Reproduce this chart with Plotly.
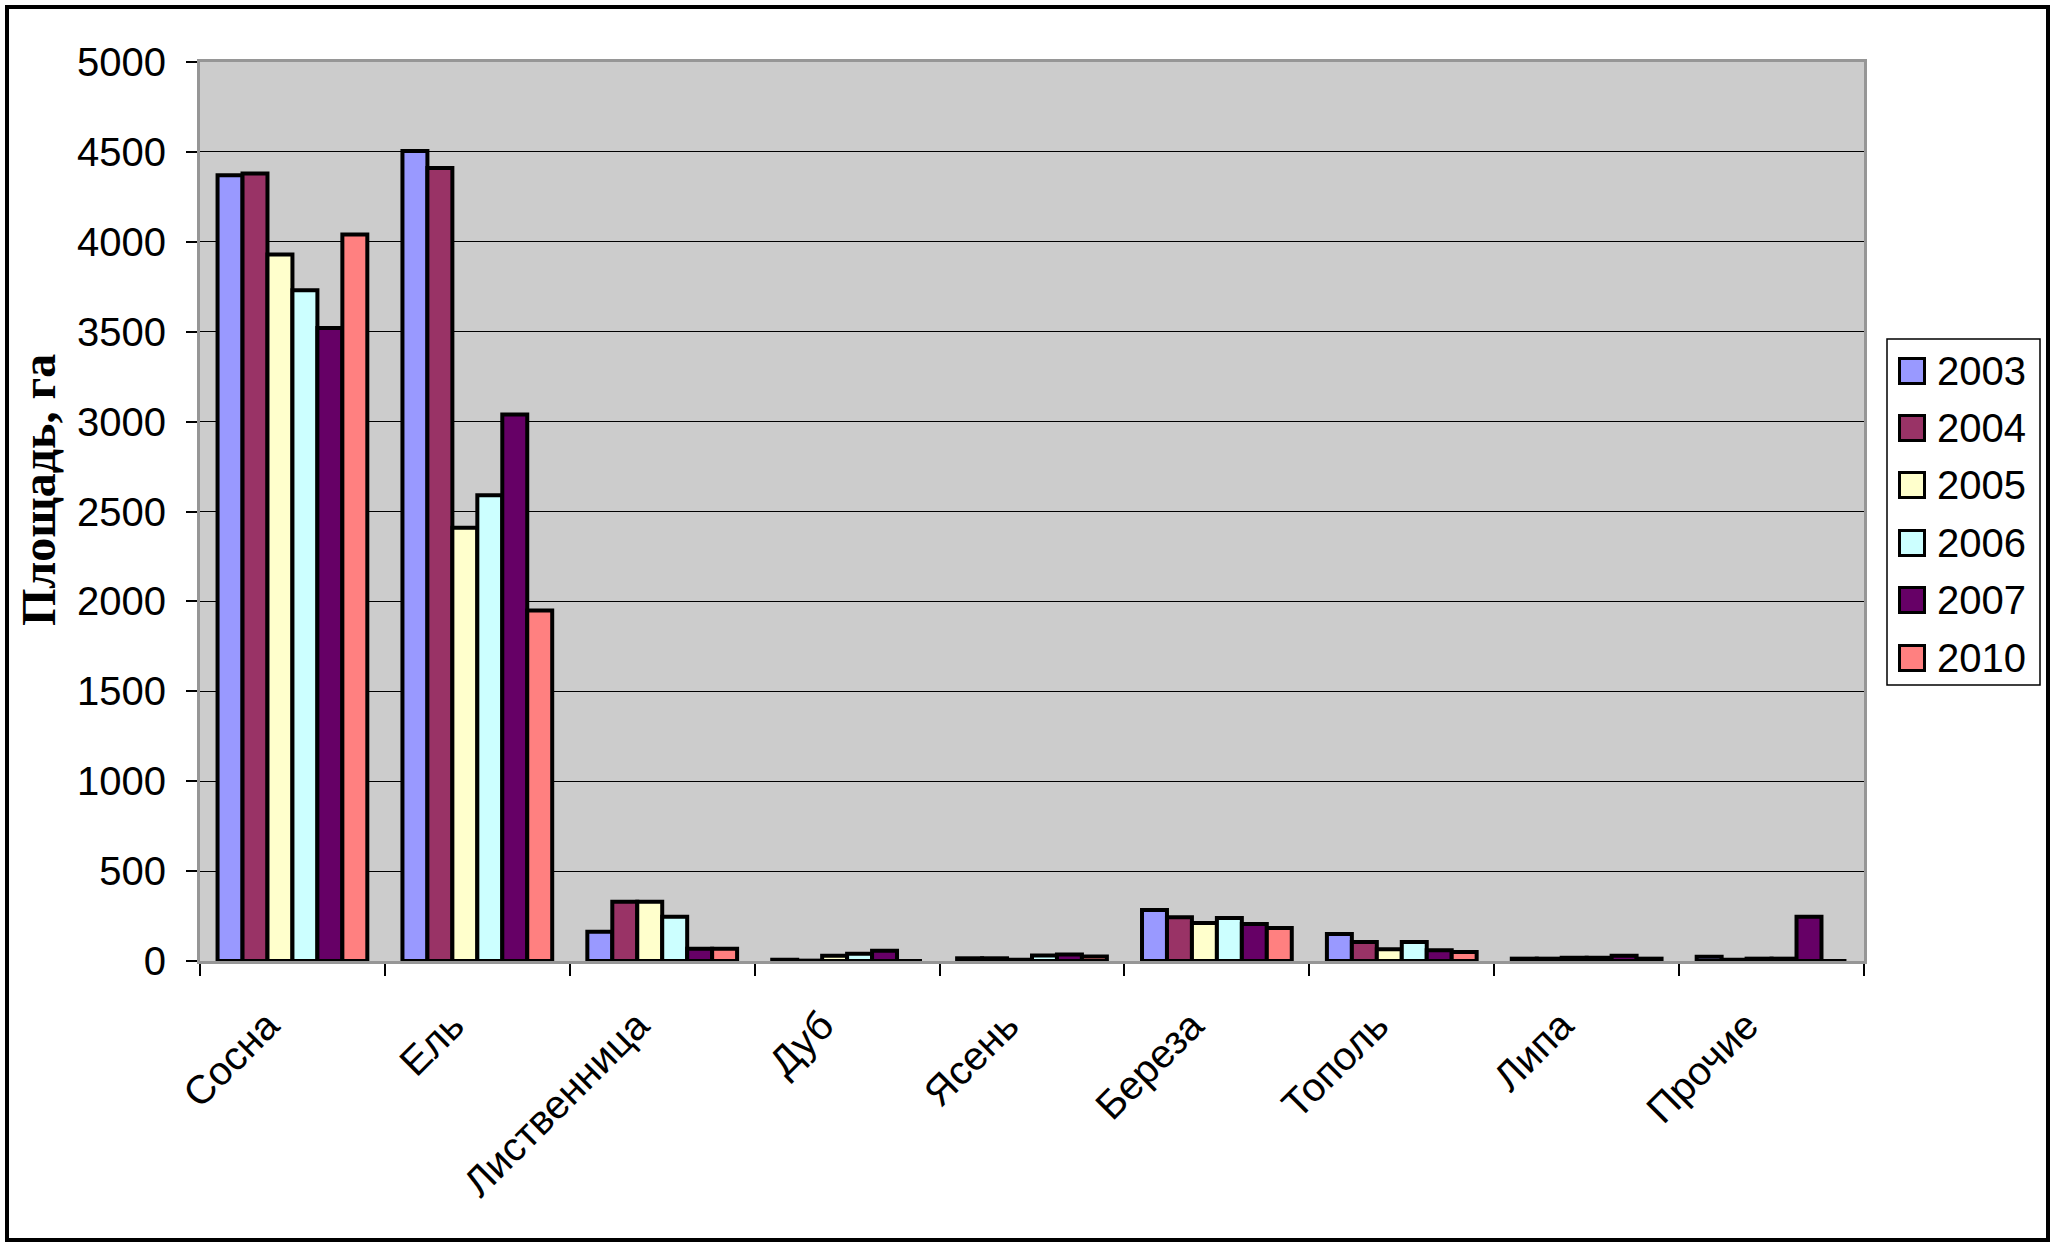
import plotly.graph_objects as go

species = ["Сосна", "Ель", "Лиственница", "Дуб", "Ясень", "Береза", "Тополь", "Липа", "Прочие"]
years = ["2003", "2004", "2005", "2006", "2007", "2010"]
v2003 = [4370, 4505, 163, 7, 15, 283, 150, 13, 24]
v2004 = [4380, 4410, 330, 2, 15, 244, 105, 13, 7]
v2005 = [3930, 2410, 330, 29, 7, 211, 65, 18, 13]
v2006 = [3730, 2590, 246, 41, 30, 239, 105, 18, 13]
v2007 = [3520, 3040, 68, 57, 36, 206, 60, 29, 246]
v2010 = [4040, 1950, 68, 0, 25, 183, 50, 13, 0]
series = [v2003, v2004, v2005, v2006, v2007, v2010]
colors = ["#9999FF", "#993366", "#FFFFCC", "#CCFFFF", "#660066", "#FF8080"]
y_ticks = list(range(0, 5001, 500))

W, H = 2056, 1248
L, R, T, B = 200, 1864, 62, 961


def px(x):
    return (x - L) / (R - L)


def py(y):
    return (B - y) / (B - T)


fig = go.Figure()
for yr, vals, col in zip(years, series, colors):
    fig.add_trace(go.Bar(
        name=yr, x=species, y=vals,
        marker=dict(color=col, line=dict(color="black", width=4)),
        showlegend=False,
    ))

shapes = []
annotations = []
# outer chart border
shapes.append(dict(type="rect", xref="paper", yref="paper",
                   x0=px(7), x1=px(2048), y0=py(7), y1=py(1240),
                   line=dict(color="black", width=4), fillcolor="rgba(0,0,0,0)", layer="above"))
# legend box
shapes.append(dict(type="rect", xref="paper", yref="paper",
                   x0=px(1887), x1=px(2040), y0=py(339), y1=py(685),
                   line=dict(color="black", width=1.5), fillcolor="white", layer="above"))
row_c = [371, 428, 485, 543, 600, 658]
for yr, col, cy in zip(years, colors, row_c):
    shapes.append(dict(type="rect", xref="paper", yref="paper",
                       x0=px(1899.5), x1=px(1924.5), y0=py(cy - 12.5), y1=py(cy + 12.5),
                       line=dict(color="black", width=3), fillcolor=col, layer="above"))
    annotations.append(dict(xref="paper", yref="paper", x=px(1935), y=py(cy),
                            xanchor="left", yanchor="middle", showarrow=False, text=yr,
                            font=dict(family="Liberation Sans, Arial", size=40, color="black")))
# y-axis title
annotations.append(dict(xref="paper", yref="paper", x=px(38), y=py(490),
                        xanchor="center", yanchor="middle", showarrow=False,
                        text="<b>Площадь, га</b>", textangle=-90,
                        font=dict(family="Liberation Serif, Times New Roman", size=48, color="black")))

fig.update_layout(
    width=W, height=H,
    margin=dict(l=L, r=W - R, t=T, b=H - B, pad=0),
    paper_bgcolor="white",
    plot_bgcolor="#CCCCCC",
    barmode="group", bargap=0.19, bargroupgap=0,
    font=dict(family="Liberation Sans, Arial", size=40, color="black"),
    showlegend=False,
    shapes=shapes,
    annotations=annotations,
    xaxis=dict(
        type="category", tickangle=-45, tickson="boundaries",
        ticks="outside", ticklen=12, tickwidth=1.5, tickcolor="black",
        showline=True, linecolor="#969696", linewidth=3, mirror=True,
        showgrid=False, tickfont=dict(size=40),
        ticklabelshift=-25, ticklabelstandoff=22,
    ),
    yaxis=dict(
        range=[0, 5000], tickvals=y_ticks, ticktext=[str(v) for v in y_ticks],
        ticks="outside", ticklen=11, tickwidth=1.5, tickcolor="black",
        showline=True, linecolor="#969696", linewidth=3, mirror=True,
        showgrid=True, gridcolor="black", gridwidth=1.2, zeroline=False,
        tickfont=dict(size=40), ticklabelstandoff=12,
    ),
)

fig.write_html("out.html", config={"displayModeBar": False},
               post_script="document.body.style.margin='0';document.body.style.overflow='hidden';")
